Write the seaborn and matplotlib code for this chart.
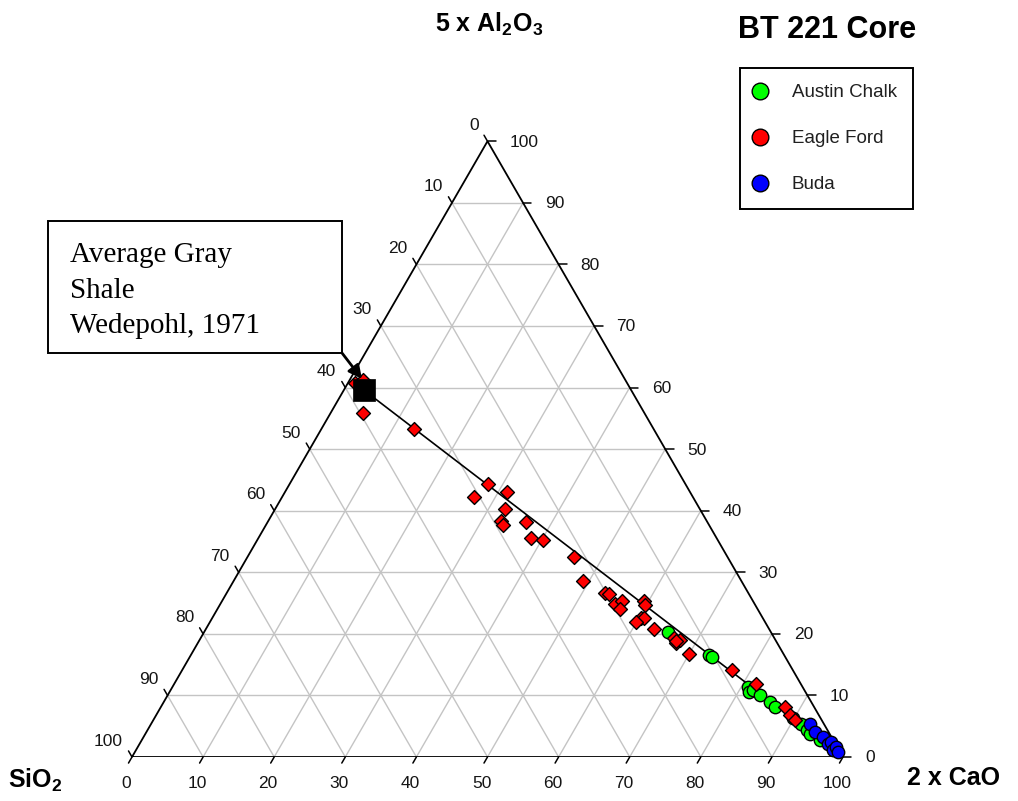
import numpy as np
import pandas as pd
import matplotlib
matplotlib.use("Agg")
import matplotlib.pyplot as plt
from matplotlib.lines import Line2D
from matplotlib.patches import Rectangle
import seaborn as sns

# ---------------- data (normalised %, 2xCaO and 5xAl2O3; SiO2 is the remainder) ----
austin_cao = [65.3, 72.9, 73.4, 81.0, 81.5, 81.9, 83.3, 85.3, 86.4, 89.7, 91.4, 92.8, 93.5, 95.3]
austin_al = [20.3, 16.5, 16.3, 11.3, 10.6, 10.8, 10.1, 9.0, 8.2, 6.4, 5.4, 4.4, 3.8, 2.8]

eagle_cao = [1.0, 1.9, 4.6, 13.0, 27.9, 27.0, 31.3, 32.4, 32.7, 33.3, 36.4, 38.3, 40.1,
             46.0, 49.1, 53.2, 53.8, 55.5, 56.2, 56.7, 59.3, 59.8, 60.4, 60.8, 59.9,
             63.0, 66.6, 67.2, 67.6, 67.0, 70.0, 77.4, 81.8, 87.8, 89.1, 90.2]
eagle_al = [60.8, 61.3, 55.9, 53.3, 44.4, 42.2, 43.0, 40.2, 38.4, 37.7, 38.1, 35.5, 35.3,
            32.4, 28.6, 26.6, 26.5, 24.8, 25.3, 24.0, 25.3, 24.7, 22.5, 22.5, 22.0,
            20.8, 19.3, 18.5, 19.0, 18.9, 16.8, 14.1, 11.8, 8.2, 6.9, 6.0]

buda_cao = [92.6, 94.0, 95.5, 96.8, 97.0, 98.0, 98.2, 98.9]
buda_al = [5.4, 4.1, 3.3, 2.1, 2.5, 1.1, 1.6, 0.8]

shale_cao = [2.8]
shale_al = [59.6]

series_names = ["Austin Chalk", "Eagle Ford", "Buda"]
series_colors = ["#00ff00", "#ff0000", "#0000ff"]
tick_values = [0, 10, 20, 30, 40, 50, 60, 70, 80, 90, 100]

# ---------------- style ----------------
sns.set_theme(style="white")
plt.rcParams["font.family"] = ["Liberation Sans", "DejaVu Sans"]
plt.rcParams["mathtext.fontset"] = "custom"
plt.rcParams["mathtext.rm"] = "Liberation Sans:bold"
plt.rcParams["mathtext.it"] = "Liberation Sans:bold"
plt.rcParams["mathtext.bf"] = "Liberation Sans:bold"

W, H = 1018, 801
fig = plt.figure(figsize=(W / 100, H / 100), dpi=100)
fig.patch.set_facecolor("white")

X0, Y0, SIDE = 132, 757, 711
R3 = np.sqrt(3) / 2
ax = fig.add_axes([X0 / W, (H - Y0) / H, SIDE / W, SIDE * R3 / H])
ax.set_xlim(0, 1)
ax.set_ylim(0, R3)
ax.axis("off")


def tern(cao, al):
    c = np.asarray(cao, dtype=float) / 100.0
    a = np.asarray(al, dtype=float) / 100.0
    return c + a / 2.0, a * R3


# grid
grid_kw = dict(color="#c4c4c4", lw=1.0, zorder=1)
for v in tick_values[1:-1]:
    x, y = tern([0, 100 - v], [v, v])          # constant Al2O3
    ax.plot(x, y, **grid_kw)
    x, y = tern([v, v], [0, 100 - v])          # constant CaO
    ax.plot(x, y, **grid_kw)
    x, y = tern([100 - v, 0], [0, 100 - v])    # constant SiO2
    ax.plot(x, y, **grid_kw)

# frame
x, y = tern([0, 100, 0, 0], [0, 0, 100, 0])
ax.plot(x, y, color="black", lw=1.3, zorder=2, solid_joinstyle="miter")

# ticks and tick labels
L = 7.0 / SIDE
tick_kw = dict(color="black", lw=1.1, zorder=2, clip_on=False)
lab_kw = dict(textcoords="offset pixels", fontsize=12.5, color="#151515", annotation_clip=False)
for v in tick_values:
    bx, by = tern([v], [0])
    ax.plot([bx[0], bx[0] - 0.5 * L], [by[0], by[0] - R3 * L], **tick_kw)
    ax.annotate(str(v), xy=(bx[0], by[0]), xytext=(-6, -27), ha="center", va="center", **lab_kw)
    rx, ry = tern([100 - v], [v])
    ax.plot([rx[0], rx[0] + 1.2 * L], [ry[0], ry[0]], **tick_kw)
    ax.annotate(str(v), xy=(rx[0], ry[0]), xytext=(22, -1), ha="left", va="center", **lab_kw)
    lx, ly = tern([0], [100 - v])
    ax.plot([lx[0], lx[0] - 0.5 * L], [ly[0], ly[0] + R3 * L], **tick_kw)
    ax.annotate(str(v), xy=(lx[0], ly[0]), xytext=(-9, 16), ha="right", va="center", **lab_kw)

# mixing line from the average shale to the CaO apex
mx, my = tern([shale_cao[0], 100], [shale_al[0], 0])
sns.lineplot(x=mx, y=my, color="black", lw=1.2, sort=False, ax=ax, zorder=3)

# data points
ac_x, ac_y = tern(austin_cao, austin_al)
ef_x, ef_y = tern(eagle_cao, eagle_al)
bu_x, bu_y = tern(buda_cao, buda_al)
df = pd.concat([
    pd.DataFrame({"x": ac_x, "y": ac_y, "unit": series_names[0]}),
    pd.DataFrame({"x": ef_x, "y": ef_y, "unit": series_names[1]}),
    pd.DataFrame({"x": bu_x, "y": bu_y, "unit": series_names[2]}),
])
marker_of = {"Austin Chalk": "o", "Eagle Ford": "D", "Buda": "o"}
size_of = {"Austin Chalk": 80, "Eagle Ford": 50, "Buda": 80}
for name, col in zip(series_names, series_colors):
    sub = df[df["unit"] == name]
    sns.scatterplot(data=sub, x="x", y="y", color=col, marker=marker_of[name],
                    s=size_of[name], edgecolor="black", linewidth=1.0,
                    ax=ax, zorder=4, legend=False, clip_on=False)

sx, sy = tern(shale_cao, shale_al)
sns.scatterplot(x=sx, y=sy, color="black", marker="s", s=270, edgecolor="black",
                linewidth=0.5, ax=ax, zorder=5, legend=False, clip_on=False)
ax.set_xlabel("")
ax.set_ylabel("")

# ---------------- overlay for page text ----------------
ov = fig.add_axes([0, 0, 1, 1], zorder=10)
ov.set_xlim(0, W)
ov.set_ylim(H, 0)
ov.axis("off")
ov.patch.set_visible(False)

ov.text(827, 38, "BT 221 Core", ha="center", va="baseline", fontsize=22, weight="bold", color="black")
ov.text(489, 32, r"5 x Al$_\mathrm{2}$O$_\mathrm{3}$", ha="center", va="baseline",
        fontsize=18, weight="bold", color="black")
ov.text(8, 788, r"SiO$_\mathrm{2}$", ha="left", va="baseline", fontsize=18, weight="bold", color="black")
ov.text(907, 785, "2 x CaO", ha="left", va="baseline", fontsize=18, weight="bold", color="black")

# annotation box
ov.add_patch(Rectangle((48, 221), 294, 132, fc="white", ec="black", lw=1.4, zorder=1))
for yb, line in zip([262, 298, 333], ["Average Gray", "Shale", "Wedepohl, 1971"]):
    ov.text(70, yb, line, ha="left", va="baseline", fontsize=21,
            family=["Liberation Serif", "DejaVu Serif"], color="black", zorder=2)
ov.annotate("", xy=(362, 379), xytext=(342, 353),
            arrowprops=dict(arrowstyle="-|>", color="black", lw=2.0, mutation_scale=20,
                            shrinkA=0, shrinkB=0))

# legend
handles = [Line2D([], [], marker="o", ls="none", markersize=12, markerfacecolor=c,
                  markeredgecolor="black", markeredgewidth=1.0) for c in series_colors]
leg = fig.legend(handles, series_names, loc="upper left", bbox_to_anchor=(740 / W, 1 - 68 / H),
                 borderaxespad=0, frameon=True, fancybox=False, edgecolor="black",
                 framealpha=1, fontsize=13.5, borderpad=0.85, handlelength=0.4,
                 handletextpad=1.5, labelspacing=1.55)
leg.get_frame().set_linewidth(1.4)
for t in leg.get_texts():
    t.set_color("#202020")

fig.savefig("out.png", dpi=100, facecolor="white")
